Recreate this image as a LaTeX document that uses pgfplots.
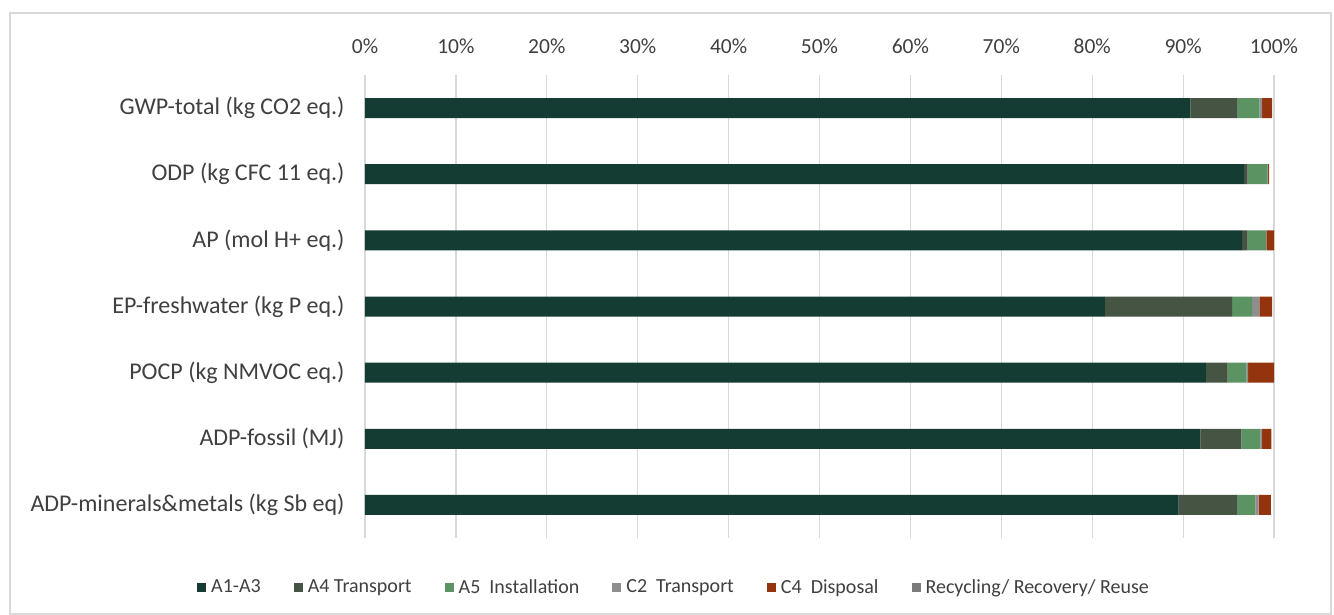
\documentclass[border=0pt]{standalone}
\usepackage{fontspec}
\setmainfont{Carlito}
\usepackage{pgfplots}
\pgfplotsset{compat=1.18}

\definecolor{cAone}{HTML}{143C32}
\definecolor{cAfour}{HTML}{465443}
\definecolor{cAfive}{HTML}{5B9363}
\definecolor{cCtwo}{HTML}{8E8E8E}
\definecolor{cCfour}{HTML}{93340F}
\definecolor{cRec}{HTML}{7B7B7B}
\definecolor{gridgray}{HTML}{D9D9D9}
\definecolor{txt}{HTML}{404040}

\begin{document}
\begin{tikzpicture}[x=1pt,y=1pt]
  \fill[white] (0,0) rectangle (1334,615);
  \draw[gridgray, line width=1.2pt] (10,1) rectangle (1331,602);
  \begin{axis}[
      at={(365pt,77pt)}, anchor=south west,
      scale only axis,
      width=909pt, height=463pt,
      xbar stacked,
      bar width=20pt,
      xmin=0, xmax=100,
      ymin=-0.5, ymax=6.5,
      y dir=reverse,
      xtick={0,10,...,100},
      xticklabels={0\%,10\%,20\%,30\%,40\%,50\%,60\%,70\%,80\%,90\%,100\%},
      xticklabel pos=top,
      ytick={0,...,6},
      yticklabels={GWP-total (kg CO2 eq.),ODP (kg CFC 11 eq.),AP (mol H+ eq.),EP-freshwater (kg P eq.),POCP (kg NMVOC eq.),ADP-fossil (MJ),ADP-minerals\&metals (kg Sb eq)},
      major tick length=0pt,
      axis line style={draw=none},
      xmajorgrids, grid style={gridgray, line width=1.2pt},
      ticklabel style={text=txt},
      yticklabel style={font=\fontsize{24}{28}\selectfont, xshift=-17pt},
      xticklabel style={font=\fontsize{21.5}{26}\selectfont, yshift=18pt},
      legend style={at={(0.34,-0.106)}, anchor=center, draw=none, fill=none,
        legend columns=-1, font=\fontsize{20}{24}\selectfont, text=txt,
        /tikz/every even column/.append style={column sep=31pt}},
      legend image code/.code={\fill[#1] (0pt,-4.5pt) rectangle (9pt,4.5pt); \path (12pt,0pt);},
      every axis plot/.append style={draw=none},
    ]
    \addplot[fill=cAone] coordinates {(90.8,0) (96.7,1) (96.5,2) (81.4,3) (92.5,4) (91.9,5) (89.5,6)};
    \addlegendentry{A1-A3}
    \addplot[fill=cAfour] coordinates {(5.2,0) (0.4,1) (0.6,2) (14.0,3) (2.4,4) (4.5,5) (6.5,6)};
    \addlegendentry{A4 Transport}
    \addplot[fill=cAfive] coordinates {(2.4,0) (2.2,1) (2.0,2) (2.2,3) (2.1,4) (2.1,5) (1.95,6)};
    \addlegendentry{A5\ \ Installation}
    \addplot[fill=cCtwo] coordinates {(0.3,0) (0.05,1) (0.05,2) (0.8,3) (0.15,4) (0.2,5) (0.35,6)};
    \addlegendentry{C2\ \ Transport}
    \addplot[fill=cCfour] coordinates {(1.1,0) (0.1,1) (0.85,2) (1.4,3) (2.85,4) (1.0,5) (1.35,6)};
    \addlegendentry{C4\ \ Disposal}
    \addplot[fill=cRec] coordinates {(0,0) (0,1) (0,2) (0,3) (0,4) (0,5) (0,6)};
    \addlegendentry{Recycling/ Recovery/ Reuse}
  \end{axis}
\end{tikzpicture}
\end{document}
